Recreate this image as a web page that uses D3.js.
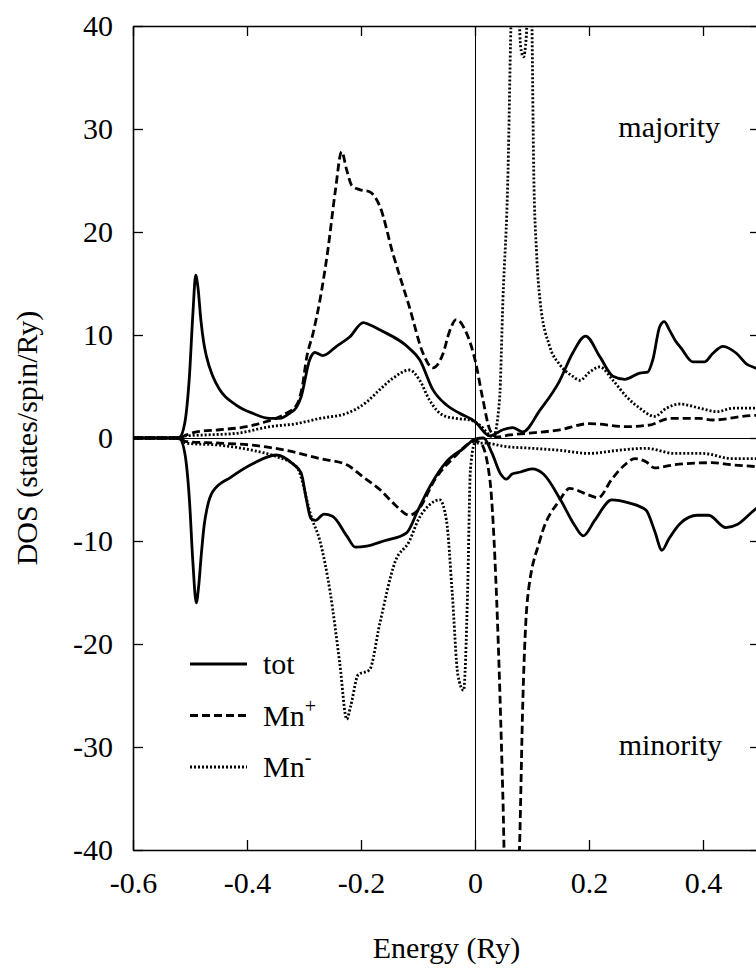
<!DOCTYPE html>
<html>
<head>
<meta charset="utf-8">
<script src="https://cdnjs.cloudflare.com/ajax/libs/d3/7.8.5/d3.min.js"></script>
<style>
  body { margin: 0; background: #fff; }
  svg text { font-family: 'Liberation Serif', 'DejaVu Serif', 'Times New Roman', Times, serif !important; fill: #000; }
</style>
</head>
<body>
<div id="chart"></div>
<script>
// axis ticks
var xTicks = [-0.6, -0.4, -0.2, 0, 0.2, 0.4];
var yTicks = [-40, -30, -20, -10, 0, 10, 20, 30, 40];

// majority spin (E in Ry, DOS)
var totUp = [[-0.6,0],[-0.53,0],[-0.518,0.1],[-0.509,1.5],[-0.501,6],[-0.495,12],[-0.49,15.8],[-0.486,14.6],
  [-0.481,11.5],[-0.476,9.3],[-0.471,7.9],[-0.46,6.0],[-0.448,4.7],[-0.419,3.2],[-0.39,2.4],[-0.36,1.9],[-0.343,1.9],
  [-0.325,2.4],[-0.313,3.0],[-0.305,4.0],[-0.29,7.6],[-0.281,8.3],[-0.267,8.0],[-0.243,8.9],[-0.22,9.8],
  [-0.196,11.2],[-0.185,11.0],[-0.167,10.5],[-0.115,8.7],[-0.097,7.6],[-0.074,4.7],[-0.05,3.2],[-0.027,2.4],
  [0,1.6],[0.026,0.2],[0.049,0.8],[0.066,1.0],[0.084,0.6],[0.114,2.7],[0.148,5.5],[0.171,8.2],[0.194,9.9],
  [0.219,7.9],[0.242,6.0],[0.263,5.7],[0.289,6.3],[0.303,6.4],[0.312,7.6],[0.324,10.8],[0.332,11.3],
  [0.341,10.5],[0.351,9.5],[0.362,8.7],[0.382,7.4],[0.403,7.4],[0.417,8.2],[0.435,8.9],[0.459,8.2],
  [0.476,7.2],[0.492,6.8],[0.5,6.6]];

var mnPlusUp = [[-0.6,0],[-0.52,0],[-0.506,0.3],[-0.489,0.6],[-0.448,0.8],[-0.401,1.1],[-0.366,1.6],
  [-0.331,2.4],[-0.313,3.2],[-0.302,5.3],[-0.296,7.6],[-0.284,10.2],[-0.272,13.4],[-0.258,18.3],[-0.245,24],
  [-0.234,27.8],[-0.225,26],[-0.216,24.5],[-0.202,24.1],[-0.185,23.9],[-0.167,22.5],[-0.144,17.9],
  [-0.115,12.7],[-0.091,8.2],[-0.074,6.8],[-0.056,8.2],[-0.045,10.3],[-0.033,11.5],[-0.015,10.2],[0,7.6],
  [0.014,3.7],[0.026,0.8],[0.038,0.1],[0.061,0.3],[0.09,0.45],[0.149,0.8],[0.201,1.4],[0.266,1.1],
  [0.306,1.26],[0.342,1.9],[0.394,1.9],[0.417,1.75],[0.492,2.2],[0.5,2.2]];

var mnMinusUp = [[-0.6,0],[-0.52,0],[-0.508,0.2],[-0.471,0.3],[-0.419,0.45],[-0.36,1.1],[-0.313,1.4],
  [-0.272,1.9],[-0.225,2.4],[-0.19,3.5],[-0.167,4.7],[-0.144,5.8],[-0.115,6.6],[-0.097,5.6],[-0.08,3.7],
  [-0.056,2.2],[-0.033,1.9],[-0.009,1.75],[0.008,1.26],[0.032,0.1],[0.043,3.7],[0.049,13.4],[0.058,26],
  [0.063,40],[0.068,48],[0.075,45],[0.08,38],[0.085,37],[0.09,39],[0.094,45],[0.098,48],[0.1,40],
  [0.103,26],[0.108,18],[0.114,13.4],[0.131,8.9],[0.149,7.1],[0.171,6.0],[0.184,5.6],[0.201,6.4],
  [0.219,6.9],[0.242,5.6],[0.266,4.0],[0.289,2.9],[0.315,2.1],[0.336,2.9],[0.359,3.3],[0.394,2.9],
  [0.424,2.55],[0.453,2.9],[0.5,2.9]];

// minority spin
var totDn = [[-0.6,0],[-0.53,0],[-0.518,-0.1],[-0.509,-1.5],[-0.501,-6],[-0.495,-12],[-0.489,-16],
  [-0.485,-14.5],[-0.48,-11.2],[-0.475,-8.4],[-0.47,-6.8],[-0.46,-5.2],[-0.428,-3.8],[-0.39,-2.5],[-0.349,-1.65],[-0.32,-2.5],
  [-0.305,-3.4],[-0.296,-5.9],[-0.288,-7.8],[-0.28,-8.0],[-0.265,-7.4],[-0.25,-7.6],[-0.225,-9.5],
  [-0.21,-10.6],[-0.19,-10.5],[-0.16,-10],[-0.12,-9.2],[-0.1,-7],[-0.08,-4.8],[-0.05,-2.3],[-0.02,-1.0],
  [0,-0.1],[0.015,0],[0.03,-1.5],[0.045,-3.5],[0.055,-4.0],[0.065,-3.5],[0.08,-3.3],[0.1,-3.0],
  [0.12,-3.5],[0.15,-6],[0.175,-8.5],[0.19,-9.5],[0.21,-8],[0.24,-6],[0.27,-6.3],[0.3,-7],[0.315,-9],
  [0.328,-10.9],[0.34,-9.8],[0.36,-8.3],[0.39,-7.5],[0.41,-7.5],[0.44,-8.7],[0.46,-8.4],[0.49,-7],[0.5,-6.6]];

var mnPlusDn = [[-0.6,0],[-0.52,0],[-0.506,-0.35],[-0.448,-0.5],[-0.39,-0.7],[-0.331,-1.2],[-0.272,-2.0],
  [-0.225,-2.6],[-0.196,-3.8],[-0.167,-5.0],[-0.14,-6.5],[-0.115,-7.5],[-0.1,-7.0],[-0.07,-4],[-0.03,-1.5],
  [-0.015,-0.7],[0,-0.3],[0.01,-0.5],[0.026,-4],[0.038,-15.7],[0.049,-35],[0.055,-48],[0.07,-48],
  [0.078,-40],[0.084,-25.4],[0.092,-15.7],[0.114,-9.9],[0.149,-6.0],[0.166,-4.9],[0.198,-5.5],
  [0.216,-5.8],[0.24,-4],[0.265,-2.5],[0.28,-2.0],[0.3,-2.3],[0.315,-2.9],[0.35,-2.6],[0.415,-2.4],
  [0.45,-2.6],[0.5,-2.8]];

var mnMinusDn = [[-0.6,0],[-0.52,0],[-0.507,-0.5],[-0.448,-0.7],[-0.39,-1.2],[-0.349,-1.8],[-0.313,-2.8],
  [-0.302,-4.4],[-0.296,-5.8],[-0.288,-7.5],[-0.272,-10],[-0.254,-15],[-0.237,-22],[-0.225,-27.3],
  [-0.218,-26],[-0.205,-23],[-0.185,-22.5],[-0.167,-18],[-0.14,-12],[-0.115,-10],[-0.1,-8],[-0.08,-6.5],
  [-0.062,-6.0],[-0.05,-8],[-0.04,-15],[-0.03,-23],[-0.02,-24.5],[-0.013,-15],[-0.008,-3],[0,-0.5],
  [0.02,-0.5],[0.05,-0.8],[0.1,-1.0],[0.15,-1.2],[0.2,-1.5],[0.25,-1.2],[0.3,-1.0],[0.35,-1.5],
  [0.4,-1.5],[0.45,-2],[0.5,-2.0]];

var svgWidth = 756;
var svgHeight = 971;

var margin = { top: 26, right: -4, bottom: 121, left: 133 };
var width = svgWidth - margin.left - margin.right;
var height = svgHeight - margin.top - margin.bottom;

var svg = d3.select('#chart')
  .append('svg')
  .attr('width', svgWidth)
  .attr('height', svgHeight);

var chartGroup = svg.append('g')
  .attr('transform', `translate(${margin.left}, ${margin.top})`);

var xScale = d3.scaleLinear().domain([-0.6, 0.5]).range([0, width]);
var yScale = d3.scaleLinear().domain([-40, 40]).range([height, 0]);

chartGroup.append('clipPath')
  .attr('id', 'clip')
  .append('rect')
  .attr('width', width)
  .attr('height', height);

// zero lines
chartGroup.append('line')
  .attr('x1', 0).attr('x2', width)
  .attr('y1', yScale(0)).attr('y2', yScale(0))
  .attr('stroke', '#000').attr('stroke-width', 1)
  .attr('shape-rendering', 'crispEdges');
chartGroup.append('line')
  .attr('x1', xScale(0)).attr('x2', xScale(0))
  .attr('y1', 0).attr('y2', height)
  .attr('stroke', '#000').attr('stroke-width', 1)
  .attr('shape-rendering', 'crispEdges');

// axes, ticks pointing inward
var fs = 30;
var serif = "'Liberation Serif', 'DejaVu Serif', serif";
var bottomAxis = d3.axisBottom(xScale).tickValues(xTicks).tickSizeInner(-10).tickSizeOuter(0)
  .tickPadding(22).tickFormat(d => d === 0 ? '0' : d3.format('.1f')(d).replace('−', '-'));
var topAxis = d3.axisTop(xScale).tickValues(xTicks).tickSizeInner(-10).tickSizeOuter(0).tickFormat('');
var leftAxis = d3.axisLeft(yScale).tickValues(yTicks).tickSizeInner(-10).tickSizeOuter(0)
  .tickPadding(20).tickFormat(d => String(d));
var rightAxis = d3.axisRight(yScale).tickValues(yTicks).tickSizeInner(-10).tickSizeOuter(0).tickFormat('');

function styleAxis(g) {
  g.attr('font-family', serif);
  g.selectAll('.domain').attr('stroke-width', 1.6);
  g.selectAll('.tick line').attr('stroke-width', 1.3);
  g.selectAll('.tick text').attr('font-size', fs).attr('font-family', serif);
}

chartGroup.append('g').attr('transform', `translate(0, ${height})`).call(bottomAxis).call(styleAxis);
chartGroup.append('g').call(topAxis).call(styleAxis);
chartGroup.append('g').call(leftAxis).call(styleAxis);
chartGroup.append('g').attr('transform', `translate(${width}, 0)`).call(rightAxis).call(styleAxis);

// curves
var line = d3.line()
  .x(d => xScale(d[0]))
  .y(d => yScale(d[1]))
  .curve(d3.curveMonotoneX);

var series = [
  { data: totUp, dash: null },
  { data: totDn, dash: null },
  { data: mnPlusUp, dash: '8,4' },
  { data: mnPlusDn, dash: '8,4' },
  { data: mnMinusUp, dash: '2,2' },
  { data: mnMinusDn, dash: '2,2' }
];

var curves = chartGroup.append('g').attr('clip-path', 'url(#clip)');
curves.selectAll('path')
  .data(series)
  .enter()
  .append('path')
  .attr('d', d => line(d.data))
  .attr('fill', 'none')
  .attr('stroke', '#000')
  .attr('stroke-width', 2.8)
  .attr('stroke-dasharray', d => d.dash);

// majority / minority labels
chartGroup.append('text')
  .attr('x', 587).attr('y', yScale(29.2))
  .attr('text-anchor', 'end')
  .attr('font-size', fs).attr('font-family', serif)
  .text('majority');
chartGroup.append('text')
  .attr('x', 589).attr('y', yScale(-30.8))
  .attr('text-anchor', 'end')
  .attr('font-size', fs).attr('font-family', serif)
  .text('minority');

// legend
var legendItems = [
  { label: 'tot', sup: '', dash: null },
  { label: 'Mn', sup: '+', dash: '8,4' },
  { label: 'Mn', sup: '-', dash: '2,2' }
];
var legend = chartGroup.append('g')
  .attr('transform', 'translate(57, 638)');
legendItems.forEach(function(item, i) {
  var row = legend.append('g').attr('transform', `translate(0, ${i * 51.5})`);
  row.append('line')
    .attr('x1', 0).attr('x2', 57)
    .attr('stroke', '#000').attr('stroke-width', 2.8)
    .attr('stroke-dasharray', item.dash);
  var t = row.append('text')
    .attr('x', 73).attr('y', 10)
    .attr('font-size', fs).attr('font-family', serif);
  t.append('tspan').text(item.label);
  if (item.sup) {
    t.append('tspan').attr('dy', -13).attr('font-size', 20).text(item.sup);
  }
});

// axis titles
svg.append('text')
  .attr('x', margin.left + xScale(-0.05))
  .attr('y', 958)
  .attr('text-anchor', 'middle')
  .attr('font-size', fs).attr('font-family', serif)
  .text('Energy (Ry)');
svg.append('text')
  .attr('transform', `translate(37, ${margin.top + yScale(0)}) rotate(-90)`)
  .attr('text-anchor', 'middle')
  .attr('font-size', fs).attr('font-family', serif)
  .text('DOS (states/spin/Ry)');
</script>
</body>
</html>
